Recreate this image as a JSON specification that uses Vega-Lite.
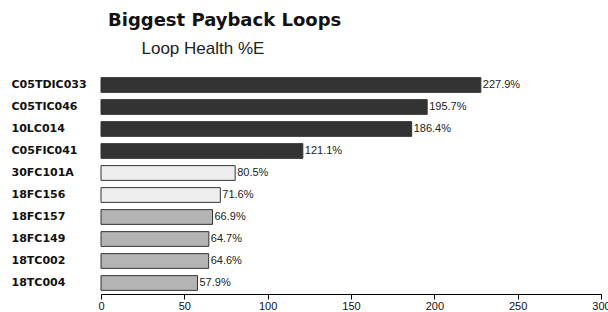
{
  "$schema": "https://vega.github.io/schema/vega-lite/v6.json",
  "width": 500,
  "height": 220,
  "autosize": {"type": "none"},
  "padding": {"left": 101, "top": 74, "right": 7, "bottom": 18},
  "background": "white",
  "title": {
    "text": "Biggest Payback Loops",
    "anchor": "start",
    "frame": "group",
    "dx": 7,
    "offset": 9,
    "font": "DejaVu Sans",
    "fontSize": 18,
    "fontWeight": "bold",
    "color": "#111111"
  },
  "config": {"view": {"stroke": null}},
  "data": {
    "values": [
      {"loop": "C05TDIC033", "value": 227.9, "label": "227.9%", "group": "high"},
      {"loop": "C05TIC046", "value": 195.7, "label": "195.7%", "group": "high"},
      {"loop": "10LC014", "value": 186.4, "label": "186.4%", "group": "high"},
      {"loop": "C05FIC041", "value": 121.1, "label": "121.1%", "group": "high"},
      {"loop": "30FC101A", "value": 80.5, "label": "80.5%", "group": "mid"},
      {"loop": "18FC156", "value": 71.6, "label": "71.6%", "group": "mid"},
      {"loop": "18FC157", "value": 66.9, "label": "66.9%", "group": "low"},
      {"loop": "18FC149", "value": 64.7, "label": "64.7%", "group": "low"},
      {"loop": "18TC002", "value": 64.6, "label": "64.6%", "group": "low"},
      {"loop": "18TC004", "value": 57.9, "label": "57.9%", "group": "low"}
    ]
  },
  "encoding": {
    "y": {
      "field": "loop",
      "type": "nominal",
      "sort": null,
      "scale": {"paddingInner": 0.33, "paddingOuter": 0.165},
      "axis": {
        "title": "Loop Health %E",
        "titleAngle": 0,
        "titleAlign": "left",
        "titleBaseline": "alphabetic",
        "titleX": 40,
        "titleY": -21,
        "titleFont": "Liberation Sans",
        "titleFontSize": 17,
        "titleFontWeight": "normal",
        "titleColor": "#222222",
        "domain": false,
        "ticks": false,
        "tickSize": 0,
        "labelAlign": "left",
        "labelPadding": 90,
        "labelFont": "DejaVu Sans",
        "labelFontSize": 11,
        "labelFontWeight": "bold",
        "labelColor": "#111111"
      }
    },
    "x": {
      "field": "value",
      "type": "quantitative",
      "scale": {"domain": [0, 300], "nice": false},
      "axis": {
        "title": null,
        "values": [0, 50, 100, 150, 200, 250, 300],
        "grid": false,
        "domainColor": "#000000",
        "tickColor": "#000000",
        "tickSize": 5,
        "labelPadding": 1,
        "labelFont": "Liberation Sans",
        "labelFontSize": 11,
        "labelColor": "#111111",
        "labelFlush": false,
        "labelOverlap": false,
        "labelBound": false
      }
    }
  },
  "layer": [
    {
      "mark": {"type": "bar", "stroke": "#333333", "strokeWidth": 1},
      "encoding": {
        "fill": {
          "field": "group",
          "type": "nominal",
          "scale": {"domain": ["high", "mid", "low"], "range": ["#333333", "#eeeeee", "#b4b4b4"]},
          "legend": null
        }
      }
    },
    {
      "mark": {"type": "text", "align": "left", "dx": 2, "font": "Liberation Sans", "fontSize": 11, "color": "#222222"},
      "encoding": {"text": {"field": "label"}}
    }
  ]
}
